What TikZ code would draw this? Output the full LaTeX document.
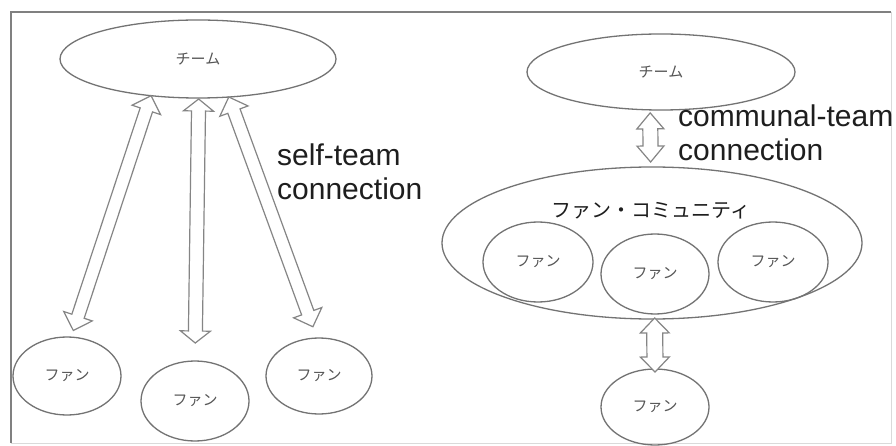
\documentclass[tikz,border=0pt]{standalone}
\usepackage{fontspec}
\setmainfont{Liberation Sans}
\newfontfamily\jpfont{Noto Sans CJK JP}
\usetikzlibrary{calc,shapes.geometric}

\definecolor{edgegray}{HTML}{737373}
\definecolor{arrowgray}{HTML}{858585}
\definecolor{framedark}{HTML}{808080}
\definecolor{framelight}{HTML}{DADADA}
\definecolor{inkdark}{HTML}{1E1E1E}
\definecolor{inklight}{HTML}{555555}

\tikzset{
  oval/.style={ellipse, draw=edgegray, line width=1.3pt, inner sep=0pt, outer sep=0pt,
    font=\jpfont\fontsize{15}{17}\selectfont, text=inklight},
  jplabel/.style={font=\jpfont\fontsize{20}{24}\selectfont, text=inkdark, inner sep=0pt},
  biglabel/.style={font=\fontsize{30}{34}\selectfont, text=inkdark, align=left, inner sep=0pt},
  hollowarrow/.style={draw=arrowgray, line width=1.2pt, line join=miter, fill=white},
}

% Hollow two-headed block arrow between two anchors.
% #1 start, #2 end, #3 gap at start, #4 gap at end,
% #5 half shaft width, #6 half head width, #7 head length
\newcommand\hollowpair[7]{%
  \draw[hollowarrow]
    let \p1=($(#2)-(#1)$), \n1={atan2(\y1,\x1)}, \n2={\n1+90},
        \p2=($(#1)+(\n1:#3)$), \p3=($(#2)+(\n1+180:#4)$) in
    (\p2)
    -- ($(\p2)+(\n1:#7)+(\n2:#6)$)
    -- ($(\p2)+(\n1:#7)+(\n2:#5)$)
    -- ($(\p3)+(\n1+180:#7)+(\n2:#5)$)
    -- ($(\p3)+(\n1+180:#7)+(\n2:#6)$)
    -- (\p3)
    -- ($(\p3)+(\n1+180:#7)+(\n2+180:#6)$)
    -- ($(\p3)+(\n1+180:#7)+(\n2+180:#5)$)
    -- ($(\p2)+(\n1:#7)+(\n2+180:#5)$)
    -- ($(\p2)+(\n1:#7)+(\n2+180:#6)$)
    -- cycle;}

\begin{document}
\begin{tikzpicture}[x=1pt, y=-1pt]
  \useasboundingbox (0,0) rectangle (896,446);
  \fill[white] (0,0) rectangle (896,446);

  % frame
  \draw[framelight, line width=1pt] (891,12) -- (891,443) -- (11,443);
  \draw[framedark, line width=2pt] (11,443) -- (11,12) -- (891,12);

  % ---- self-team connection ----
  \node[oval, minimum width=276pt, minimum height=78pt] (teamL) at (198,59) {チーム};
  \node[oval, minimum width=108pt, minimum height=78pt] (fanL) at (67,376) {ファン};
  \node[oval, minimum width=108pt, minimum height=80pt] (fanM) at (195,401) {ファン};
  \node[oval, minimum width=106pt, minimum height=76pt] (fanR) at (319,376) {ファン};

  \hollowpair{teamL.218}{fanL.84}{0pt}{7pt}{6.5pt}{15pt}{15pt}
  \hollowpair{teamL.271}{fanM.north}{1pt}{18pt}{7pt}{15pt}{12pt}
  \hollowpair{teamL.309}{fanR.93}{0pt}{12pt}{6.5pt}{15pt}{15pt}

  \node[biglabel, anchor=base west] (selfLbl) at (277,200) {self-team\\connection};

  % ---- communal-team connection ----
  \node[oval, minimum width=268pt, minimum height=76pt] (teamR) at (661,72) {チーム};
  \node[oval, minimum width=420pt, minimum height=152pt] (comm) at (652,243) {};
  \node[jplabel] (commTitle) at (651,211) {ファン・コミュニティ};
  \node[oval, minimum width=110pt, minimum height=80pt] (fanA) at (538,262) {ファン};
  \node[oval, minimum width=108pt, minimum height=80pt] (fanB) at (655,274) {ファン};
  \node[oval, minimum width=110pt, minimum height=80pt] (fanC) at (773,262) {ファン};
  \node[oval, minimum width=108pt, minimum height=76pt] (fanD) at (655,407) {ファン};

  \hollowpair{teamR.254}{comm.91}{3pt}{5pt}{7.5pt}{13.5pt}{16pt}
  \hollowpair{comm.272}{fanD.north}{-1pt}{-3pt}{8pt}{14.5pt}{15pt}

  \node[biglabel, anchor=base west] (commLbl) at (678,161) {communal-team\\connection};
\end{tikzpicture}
\end{document}
